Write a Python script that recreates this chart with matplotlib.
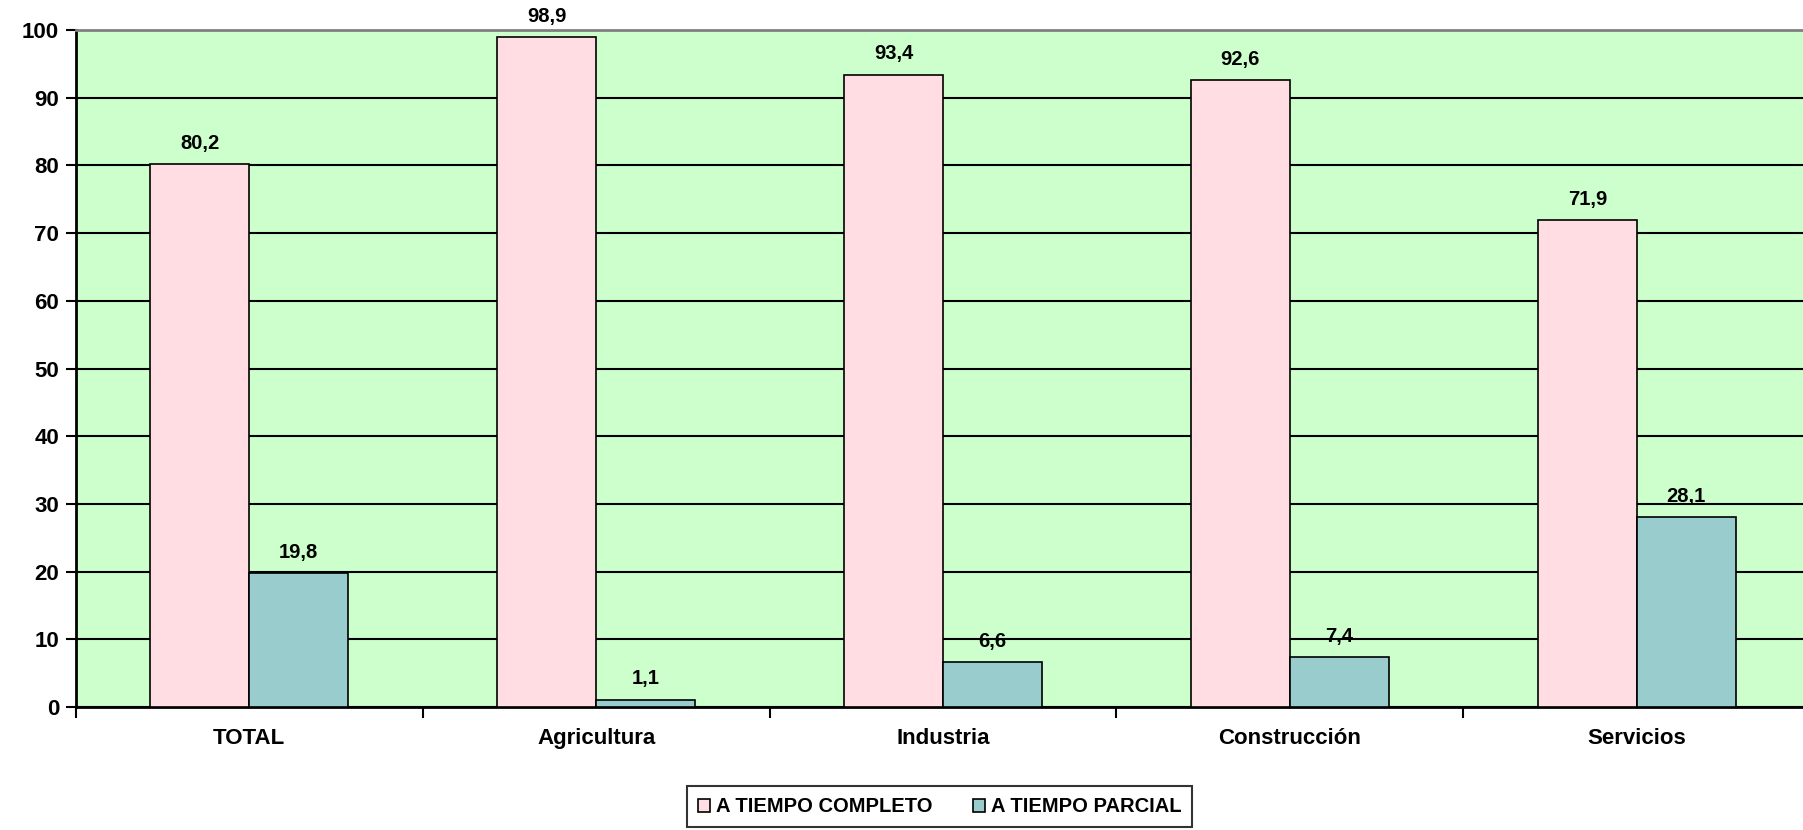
import numpy as np
import matplotlib.pyplot as plt
from matplotlib.ticker import FixedLocator

plt.rcParams['font.family'] = ['Liberation Sans', 'DejaVu Sans']
plt.rcParams['font.weight'] = 'bold'

categories = ['TOTAL', 'Agricultura', 'Industria', 'Construcción', 'Servicios']
completo = [80.2, 98.9, 93.4, 92.6, 71.9]
parcial = [19.8, 1.1, 6.6, 7.4, 28.1]
labels = ['A TIEMPO COMPLETO', 'A TIEMPO PARCIAL']

fig = plt.figure(figsize=(18.03, 8.3), dpi=100)
ax = fig.add_axes([0.042, 0.148, 0.962, 0.816])
ax.set_facecolor('#ccffcc')

x = np.arange(len(categories))
w = 0.285
b1 = ax.bar(x - w / 2, completo, w, color='#ffdde3', edgecolor='black', linewidth=1.2, label=labels[0], zorder=3)
b2 = ax.bar(x + w / 2, parcial, w, color='#99cccc', edgecolor='black', linewidth=1.2, label=labels[1], zorder=3)

for bars, vals in [(b1, completo), (b2, parcial)]:
    for r, v in zip(bars, vals):
        ax.annotate(f'{v:.1f}'.replace('.', ','), (r.get_x() + r.get_width() / 2, v),
                    xytext=(0, 15), textcoords='offset points', ha='center', va='center',
                    fontsize=14.5, fontweight='bold')

ax.set_xlim(-0.5, len(categories) - 0.5)
ax.set_ylim(0, 100)
ax.set_yticks(range(0, 101, 10))
ax.yaxis.grid(True, color='black', linewidth=1.5, zorder=1)
ax.set_axisbelow(True)

# ticks at category boundaries, labels at centres
ax.xaxis.set_major_locator(FixedLocator(np.arange(-0.5, len(categories), 1.0)))
ax.xaxis.set_minor_locator(FixedLocator(x))
ax.set_xticklabels([])
ax.set_xticklabels(categories, minor=True)
ax.tick_params(axis='x', which='major', length=8, width=1.5, direction='out')
ax.tick_params(axis='x', which='minor', length=0, pad=15, labelsize=16)
ax.tick_params(axis='y', length=7, width=1.5, labelsize=16, pad=5)
for lab in ax.get_xticklabels(minor=True) + ax.get_yticklabels():
    lab.set_fontweight('bold')

ax.spines['left'].set_linewidth(2)
ax.spines['bottom'].set_linewidth(2)
ax.spines['top'].set_color('#808080')
ax.spines['top'].set_linewidth(2)
ax.spines['right'].set_visible(False)

leg = fig.legend(loc='center', bbox_to_anchor=(0.521, 0.028), ncol=2, frameon=True,
                 fancybox=False, edgecolor='black', fontsize=14.5, handlelength=0.6,
                 handleheight=0.6, handletextpad=0.3, columnspacing=2.0, borderpad=0.55)
leg.get_frame().set_linewidth(1.5)
for t in leg.get_texts():
    t.set_fontweight('bold')

fig.savefig('out.png', dpi=100)
